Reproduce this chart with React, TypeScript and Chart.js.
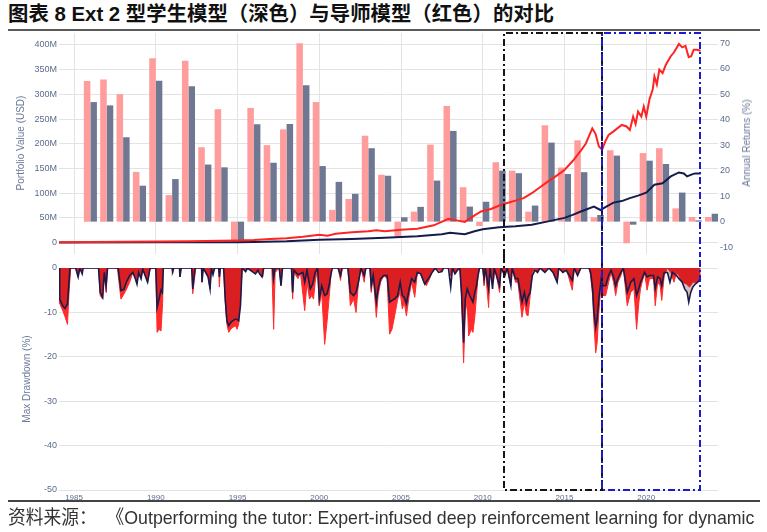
import React, { useEffect, useLayoutEffect, useRef } from 'react';
import { Chart, registerables } from 'chart.js';

Chart.register(...registerables);

// ---------- DATA ----------
const barYears = [1986, 1987, 1988, 1989, 1990, 1991, 1992, 1993, 1994, 1995, 1996, 1997, 1998, 1999, 2000, 2001, 2002, 2003, 2004, 2005, 2006, 2007, 2008, 2009, 2010, 2011, 2012, 2013, 2014, 2015, 2016, 2017, 2018, 2019, 2020, 2021, 2022, 2023, 2024];
const tutorReturns = [55.2, 55.8, 50.0, 19.5, 64.1, 10.4, 63.1, 29.2, 44.1, -8.2, 44.6, 30.0, 36.2, 70.0, 46.9, 4.6, 8.9, 33.7, 18.4, -5.9, 3.9, 30.2, 45.4, 13.5, -1.7, 23.3, 20.0, 3.9, 37.8, 21.2, 31.9, 1.7, 28.0, -8.5, 26.9, 28.8, 5.2, 1.8, 1.8];
const studentReturns = [46.9, 45.6, 33.1, 14.1, 55.3, 16.7, 53.1, 22.4, 21.3, -8.2, 38.2, 23.1, 38.3, 53.5, 21.8, 15.6, 10.9, 28.8, 18.0, 1.7, 5.8, 16.1, 35.6, 5.9, 7.8, 20.0, 19.0, 6.3, 31.0, 18.7, 19.4, 2.6, 25.9, -1.2, 23.9, 22.6, 11.4, 0.5, 3.1];

// Portfolio value (millions USD)
const tutorValue: [number, number][] = [
  [1984.08, 1], [1986, 1.5], [1988, 2], [1990, 2.5], [1992, 3], [1994, 4], [1995, 4.5], [1996, 5.5], [1997, 7.5], [1998, 9], [1999, 12],
  [2000, 16], [2000.5, 14], [2001, 18], [2002, 21], [2003, 23], [2003.5, 25], [2004, 23], [2005, 26], [2006, 28], [2007, 35], [2007.9, 48],
  [2008.4, 45], [2008.9, 42], [2009.5, 55], [2009.9, 63], [2010.5, 68], [2011.1, 76], [2011.5, 80], [2012, 85], [2012.5, 90], [2013, 100],
  [2013.5, 112], [2014, 124], [2014.5, 135], [2015, 147], [2015.5, 165], [2016, 186], [2016.3, 200], [2016.7, 231], [2016.9, 220],
  [2017.1, 195], [2017.3, 188], [2017.5, 205], [2017.7, 218], [2018, 225], [2018.5, 238], [2018.8, 235], [2019, 228], [2019.2, 255],
  [2019.35, 240], [2019.5, 265], [2019.7, 255], [2019.85, 275], [2020, 255], [2020.2, 290], [2020.4, 310], [2020.5, 336], [2020.65, 320],
  [2020.8, 350], [2021, 343], [2021.2, 360], [2021.5, 377], [2021.7, 385], [2022, 402], [2022.2, 395], [2022.4, 398], [2022.6, 375],
  [2022.75, 377], [2022.9, 390], [2023.1, 390], [2023.33, 388]
];
const studentValue: [number, number][] = [
  [1984.08, 0.5], [1990, 0.8], [1995, 1], [1996, 1.5], [1998, 3], [2000, 6], [2002, 7.5], [2004, 10], [2006, 13], [2007.5, 17], [2008, 20],
  [2008.9, 17], [2009.5, 23], [2010, 27], [2011, 31], [2012, 33], [2013, 36], [2014, 43], [2015, 50], [2015.5, 56], [2016, 63], [2016.8, 73],
  [2017.2, 66], [2017.5, 72], [2018, 81], [2018.5, 84], [2019, 90], [2019.5, 95], [2020, 101], [2020.5, 117], [2021, 120], [2021.5, 134],
  [2022, 142], [2022.3, 140], [2022.5, 134], [2022.8, 138], [2023, 140], [2023.33, 140]
];

// Max drawdown (%)
const tutorDrawdown: [number, number][] = [
  [1984.08, 0], [1984.12, -8], [1984.3, -9.5], [1984.45, -11], [1984.6, -12.7], [1984.7, -5], [1984.8, 0], [1985.1, 0], [1985.25, -2], [1985.35, 0],
  [1985.5, -1.3], [1985.55, 0], [1986.5, 0], [1986.6, -6.2], [1986.75, -7], [1986.85, -1.5], [1986.96, -5.5], [1987.05, 0], [1987.65, 0],
  [1987.75, -3.2], [1987.87, -7], [1988.0, -6.2], [1988.18, -5], [1988.4, -3.2], [1988.6, -1], [1988.75, -2.4], [1988.85, -3.6], [1988.95, -1],
  [1989.1, -2.4], [1989.2, -0.2], [1989.5, -3.2], [1989.65, -0.2], [1990.0, 0], [1990.08, -14.5], [1990.2, -13.8], [1990.32, -14.2],
  [1990.42, -7.7], [1990.46, 0], [1991.0, 0], [1991.03, -1.3], [1991.1, 0], [1991.45, 0], [1991.48, -2], [1991.55, 0], [1992.2, 0],
  [1992.26, -5.8], [1992.35, -3], [1992.45, 0], [1992.8, 0], [1992.83, -3.2], [1992.9, 0], [1993.2, -2], [1993.32, -4.7], [1993.4, 0],
  [1993.5, -1], [1993.6, 0], [1993.85, 0], [1993.89, -4.3], [1993.95, 0], [1994.15, 0], [1994.25, -7.7], [1994.35, -12.7], [1994.46, -14.5],
  [1994.58, -13.8], [1994.7, -13.4], [1994.87, -13], [1994.97, -13.8], [1995.07, -12.7], [1995.2, -6.2], [1995.28, 0], [1995.5, -0.8],
  [1995.6, 0], [1996.2, -1], [1996.3, -0.3], [1996.55, -2], [1996.6, 0], [1997.1, 0], [1997.21, -13.8], [1997.3, -1], [1997.55, 0],
  [1997.66, -4], [1997.75, 0], [1998.3, 0], [1998.37, -7], [1998.45, -1], [1998.7, -2.4], [1998.85, -1], [1999.11, -9.6], [1999.25, -3.2],
  [1999.4, -7], [1999.55, -6.2], [1999.65, -7], [1999.75, -3.2], [1999.9, 0], [2000.0, -8.5], [2000.15, -5.5], [2000.33, -17.2],
  [2000.48, -11.9], [2000.58, -7.7], [2000.68, -3.2], [2000.75, 0], [2001.15, 0], [2001.3, -2.8], [2001.4, 0], [2001.75, 0], [2001.9, -8.5],
  [2002.1, -7], [2002.25, -10], [2002.4, -3.2], [2002.55, 0], [2002.75, -3.2], [2002.85, 0], [2003.1, 0], [2003.18, -5.5], [2003.3, -1.7],
  [2003.49, -11.1], [2003.6, -6.2], [2003.75, -3.2], [2003.95, -1.7], [2004.15, -2.4], [2004.3, -14.9], [2004.45, -13.8], [2004.61, -10.8],
  [2004.8, -7], [2004.95, -5.5], [2005.08, -9.2], [2005.2, -7.7], [2005.33, -10.8], [2005.5, -6.2], [2005.65, -3.2], [2005.84, -6.6],
  [2006.0, -1], [2006.2, -1.3], [2006.4, -3.2], [2006.55, -4], [2006.75, -2.4], [2006.9, -1], [2007.1, 0], [2007.5, -0.8], [2007.6, 0],
  [2008.0, 0], [2008.04, -1.7], [2008.15, 0], [2008.3, -1], [2008.6, 0], [2008.7, -6.2], [2008.83, -21.4], [2008.93, -10], [2009.05, -7.7],
  [2009.14, -15.3], [2009.3, -13.8], [2009.4, -14.5], [2009.52, -10.8], [2009.62, -6.2], [2009.71, -1.7], [2009.8, 0], [2010.0, 0],
  [2010.08, -4], [2010.15, 0], [2010.36, -8.9], [2010.45, 0], [2010.65, -3.2], [2010.75, 0], [2011.03, -5.5], [2011.12, 0], [2011.35, -1.7],
  [2011.5, 0], [2011.72, -4], [2011.8, 0], [2012.0, -3.2], [2012.15, -3.2], [2012.4, -11.1], [2012.55, -7.7], [2012.67, -10.5],
  [2012.77, -10.8], [2012.9, -6.2], [2013.03, -1], [2013.2, 0], [2013.35, -1], [2013.5, 0], [2013.8, -0.8], [2014.05, 0], [2014.3, -1],
  [2014.55, -3.2], [2014.65, 0], [2014.9, -1], [2015.1, 0], [2015.48, -5], [2015.6, 0], [2015.8, -1.7], [2016.0, 0], [2016.5, 0],
  [2016.6, -1.7], [2016.72, -6.2], [2016.8, -12.3], [2016.91, -19.1], [2017.0, -16.8], [2017.1, -10], [2017.25, -3.2], [2017.35, -6.2],
  [2017.52, -6.2], [2017.7, -3.2], [2017.85, -1], [2018.0, -3.2], [2018.13, -6.2], [2018.27, -3.2], [2018.45, -1.7], [2018.6, 0],
  [2018.84, -8.5], [2019.05, -5.5], [2019.25, -4.7], [2019.41, -13.8], [2019.55, -7.7], [2019.65, -4.7], [2019.75, -3.2], [2019.9, -1],
  [2020.05, -5], [2020.2, -2.4], [2020.45, -2.4], [2020.55, -8.5], [2020.7, -3.2], [2020.85, -4], [2020.95, -7.3], [2021.1, -1.7],
  [2021.3, 0], [2021.5, -1], [2021.7, -3.2], [2021.85, -1], [2022.0, -1.7], [2022.2, -3.2], [2022.45, -3.6], [2022.65, -4.3],
  [2022.85, -3.2], [2023.05, -3.2], [2023.33, -2.4]
];
const studentDrawdown: [number, number][] = [
  [1984.08, 0], [1984.12, -7], [1984.3, -8.5], [1984.45, -9.1], [1984.6, -8.1], [1984.75, 0], [1985.1, 0], [1985.25, -2], [1985.35, 0],
  [1985.5, -1.3], [1985.55, 0], [1986.5, 0], [1986.6, -5.5], [1986.75, -6.6], [1986.85, -1], [1986.96, -4], [1987.05, 0], [1987.7, 0],
  [1987.8, -3], [1987.87, -5.1], [1988.05, -4.8], [1988.2, -3.2], [1988.4, -1.7], [1988.6, -1], [1988.75, -2.4], [1988.85, -3.6],
  [1988.95, -1], [1989.1, -2.4], [1989.2, -0.2], [1989.5, -3.2], [1989.65, 0], [1990.0, 0], [1990.08, -8.9], [1990.2, -7], [1990.32, -5],
  [1990.4, -5.5], [1990.46, 0], [1991.0, 0], [1991.03, -0.8], [1991.1, 0], [1991.45, 0], [1991.48, -2], [1991.55, 0], [1992.2, 0],
  [1992.26, -4.7], [1992.4, 0], [1992.8, 0], [1992.83, -3.2], [1992.9, 0], [1993.2, -2], [1993.32, -4.7], [1993.4, 0], [1993.5, -1.5],
  [1993.6, 0], [1993.85, 0], [1993.89, -2], [1993.95, 0], [1994.15, 0], [1994.25, -7], [1994.35, -11.9], [1994.46, -13], [1994.58, -12.3],
  [1994.7, -11.9], [1994.87, -11.5], [1994.97, -11.6], [1995.07, -11.9], [1995.18, -8.5], [1995.28, 0], [1995.5, -0.8], [1995.6, 0],
  [1996.1, -1.3], [1996.25, -0.5], [1996.35, -1.3], [1996.5, -2], [1996.6, 0], [1997.15, 0], [1997.2, -2.4], [1997.3, 0], [1997.55, 0],
  [1997.66, -4], [1997.75, 0], [1998.3, 0], [1998.37, -5.5], [1998.45, -0.5], [1998.7, -1.5], [1999.0, -1], [1999.11, -3.2],
  [1999.25, -0.5], [1999.45, -4.7], [1999.6, -3.6], [1999.75, -1], [1999.9, 0], [2000.0, -7], [2000.15, -4], [2000.33, -6.2],
  [2000.48, -5.8], [2000.6, -4], [2000.7, -1.7], [2000.8, 0], [2001.15, 0], [2001.3, -1.7], [2001.4, 0], [2001.75, 0], [2001.9, -5.5],
  [2002.1, -6.2], [2002.25, -5.5], [2002.4, -3.2], [2002.55, 0], [2002.75, -1.7], [2002.85, 0], [2003.1, 0], [2003.18, -4], [2003.3, -1.7],
  [2003.49, -7.7], [2003.6, -4.7], [2003.75, -2.4], [2003.95, -1.7], [2004.15, -1.7], [2004.3, -7.7], [2004.45, -7.3], [2004.61, -7],
  [2004.8, -6.2], [2004.95, -3.2], [2005.08, -6.2], [2005.2, -6.6], [2005.33, -8.1], [2005.5, -4.7], [2005.65, -2.4], [2005.84, -3.2],
  [2006.0, -1], [2006.2, -1.3], [2006.45, -3.6], [2006.6, -2.8], [2006.75, -2], [2006.9, -1], [2007.1, 0], [2007.3, -1], [2007.5, -0.8],
  [2007.6, 0], [2007.9, 0], [2008.04, -4.3], [2008.15, 0], [2008.3, -1.3], [2008.45, -0.5], [2008.6, 0], [2008.7, -5.5], [2008.83, -16.8],
  [2008.93, -7], [2009.05, -4.7], [2009.2, -6.2], [2009.4, -7.7], [2009.52, -5.5], [2009.62, -4], [2009.71, -1.7], [2009.8, 0], [2010.0, 0],
  [2010.08, -2.4], [2010.15, 0], [2010.36, -4.7], [2010.45, 0], [2010.6, -4.7], [2010.7, 0], [2011.03, -4], [2011.12, 0], [2011.35, -1.7],
  [2011.5, 0], [2011.72, -4], [2011.8, 0], [2012.0, -2.4], [2012.15, -2.4], [2012.4, -7.7], [2012.55, -5.5], [2012.67, -8], [2012.77, -6.5],
  [2012.9, -5.5], [2013.03, -1.7], [2013.2, -0.5], [2013.35, -1], [2013.5, 0], [2013.8, -1], [2014.05, 0], [2014.3, -1], [2014.55, -3.2],
  [2014.65, 0], [2014.9, -1], [2015.1, -0.5], [2015.48, -2.8], [2015.6, 0], [2015.8, -1.7], [2016.0, 0], [2016.5, 0], [2016.6, -1],
  [2016.72, -4.7], [2016.8, -10], [2016.91, -13.4], [2017.0, -11.5], [2017.1, -7], [2017.25, -2.4], [2017.35, -4], [2017.52, -4],
  [2017.7, -1.7], [2017.85, -0.5], [2018.0, -2], [2018.13, -4], [2018.27, -2.4], [2018.45, -1], [2018.6, 0], [2018.84, -5.5],
  [2019.05, -3.2], [2019.25, -2.4], [2019.41, -6.2], [2019.55, -4.7], [2019.65, -3.2], [2019.75, -2.4], [2019.9, -1], [2020.05, -2],
  [2020.2, -1.7], [2020.45, -1.7], [2020.55, -4.7], [2020.7, -2], [2020.85, -2.4], [2020.95, -4], [2021.1, -1], [2021.3, -1],
  [2021.45, -3.2], [2021.6, -1], [2021.85, -1.7], [2022.0, -2.4], [2022.2, -3.2], [2022.35, -4.7], [2022.5, -5.5], [2022.6, -7.7],
  [2022.72, -5.5], [2022.85, -4.3], [2023.0, -3.6], [2023.15, -3.2], [2023.33, -2.4]
];

const xTickYears = [1985, 1990, 1995, 2000, 2005, 2010, 2015, 2020];
const valueTicks = [0, 50, 100, 150, 200, 250, 300, 350, 400];
const returnTicks = [-10, 0, 10, 20, 30, 40, 50, 60, 70];
const drawdownTicks = [-50, -40, -30, -20, -10, 0];
const highlightStarts = [2011.3, 2017.3];
const highlightEnds = [2017.3, 2023.3];

// ---------- STYLE ----------
const X_MIN = 1984.08;
const X_MAX = 2024.39;
const TICK_COLOR = '#5d6c8c';
const GRID_COLOR = '#e3e3e3';
const BOX_COLORS = ['#151515', '#1a1ad0'];
const TOP_H = 225;
const BOT_H = 248;
const SOURCE_WIDTH = 746;

const tickFont = { family: '"Liberation Sans", Arial, sans-serif', size: 9 };

function boxPlugin(part: 'top' | 'bottom') {
  return {
    id: 'hlbox_' + part,
    afterDraw(chart: any) {
      const { ctx, chartArea, scales } = chart;
      const xs = scales.x;
      ctx.save();
      ctx.lineWidth = 2;
      ctx.setLineDash([7, 3, 2, 3]);
      highlightStarts.forEach((s, i) => {
        const x0 = Math.round(xs.getPixelForValue(s));
        const x1 = Math.round(xs.getPixelForValue(highlightEnds[i]));
        ctx.strokeStyle = BOX_COLORS[i];
        ctx.beginPath();
        if (part === 'top') {
          const y0 = chartArea.top;
          const y1 = chart.height;
          ctx.moveTo(x0, y1); ctx.lineTo(x0, y0); ctx.lineTo(x1, y0); ctx.lineTo(x1, y1);
        } else {
          const y0 = 0;
          const y1 = chartArea.bottom;
          ctx.moveTo(x0, y0); ctx.lineTo(x0, y1); ctx.lineTo(x1, y1); ctx.lineTo(x1, y0);
        }
        ctx.stroke();
      });
      ctx.restore();
    }
  };
}

const VLabel = ({ cx, cy, text }: { cx: number; cy: number; text: string }) => (
  <div style={{
    position: 'absolute', left: cx, top: cy, transform: 'translate(-50%, -50%) rotate(-90deg)',
    whiteSpace: 'nowrap', fontFamily: '"Liberation Sans", Arial, sans-serif', fontSize: 10, color: '#6b7a99', lineHeight: '12px'
  }}>{text}</div>
);

export default function App() {
  const topRef = useRef<HTMLCanvasElement>(null);
  const botRef = useRef<HTMLCanvasElement>(null);
  const srcRef = useRef<HTMLDivElement>(null);

  useLayoutEffect(() => {
    const el = srcRef.current;
    if (el) {
      const w = el.scrollWidth;
      if (w > 0) el.style.transform = `scaleX(${SOURCE_WIDTH / w})`;
    }
  }, []);

  useEffect(() => {
    const top = new Chart(topRef.current as HTMLCanvasElement, {
      type: 'bar',
      data: {
        datasets: [
          { type: 'line', label: 'Tutor value', data: tutorValue.map(([x, y]) => ({ x, y })), yAxisID: 'yL', borderColor: '#ff2424', borderWidth: 2, pointRadius: 0, tension: 0, order: 0 } as any,
          { type: 'line', label: 'Student value', data: studentValue.map(([x, y]) => ({ x, y })), yAxisID: 'yL', borderColor: '#141c4c', borderWidth: 2, pointRadius: 0, tension: 0, order: 0 } as any,
          { type: 'bar', label: 'Tutor return', data: barYears.map((x, i) => ({ x, y: tutorReturns[i] })), yAxisID: 'yR', backgroundColor: '#ff9c9c', categoryPercentage: 0.8, barPercentage: 1, order: 1 } as any,
          { type: 'bar', label: 'Student return', data: barYears.map((x, i) => ({ x, y: studentReturns[i] })), yAxisID: 'yR', backgroundColor: '#6f7893', categoryPercentage: 0.8, barPercentage: 1, order: 1 } as any,
        ]
      },
      options: {
        responsive: false, animation: false, devicePixelRatio: 1,
        layout: { padding: { top: 2, left: 0, right: 0, bottom: 0 } },
        plugins: { legend: { display: false }, tooltip: { enabled: false } },
        scales: {
          x: {
            type: 'linear', min: X_MIN, max: X_MAX, offset: false,
            grid: { color: GRID_COLOR, drawTicks: false, offset: false }, border: { display: false },
            ticks: { display: false },
            afterBuildTicks: (s: any) => { s.ticks = xTickYears.map(v => ({ value: v })); },
            afterFit: (s: any) => { s.height = 2; s.paddingLeft = 0; s.paddingRight = 0; }
          },
          yL: {
            position: 'left', min: -23, max: 424,
            grid: { color: GRID_COLOR, drawTicks: false }, border: { display: false },
            ticks: { color: TICK_COLOR, font: tickFont, padding: 2, callback: (v: any) => (v === 0 ? '0' : v + 'M') },
            afterBuildTicks: (s: any) => { s.ticks = valueTicks.map(v => ({ value: v })); },
            afterFit: (s: any) => { s.width = 59; s.paddingTop = 0; s.paddingBottom = 0; }
          },
          yR: {
            position: 'right', min: -12.7, max: 74,
            grid: { display: false, drawTicks: false }, border: { display: false },
            ticks: { color: TICK_COLOR, font: tickFont, padding: 2, callback: (v: any) => String(v) },
            afterBuildTicks: (s: any) => { s.ticks = returnTicks.map(v => ({ value: v })); },
            afterFit: (s: any) => { s.width = 49; s.paddingTop = 0; s.paddingBottom = 0; }
          }
        }
      } as any,
      plugins: [boxPlugin('top')]
    });

    const bot = new Chart(botRef.current as HTMLCanvasElement, {
      type: 'line',
      data: {
        datasets: [
          { label: 'Student drawdown', data: studentDrawdown.map(([x, y]) => ({ x, y })), borderColor: '#1b1b4a', borderWidth: 1.6, backgroundColor: 'rgba(110,0,10,0.26)', fill: 'origin', pointRadius: 0, tension: 0, order: 0 } as any,
          { label: 'Tutor drawdown', data: tutorDrawdown.map(([x, y]) => ({ x, y })), borderColor: '#ff2b2b', borderWidth: 1, backgroundColor: '#ff2b2b', fill: 'origin', pointRadius: 0, tension: 0, order: 1 } as any,
        ]
      },
      options: {
        responsive: false, animation: false, devicePixelRatio: 1,
        layout: { padding: { top: 12, left: 0, right: 49, bottom: 0 } },
        plugins: { legend: { display: false }, tooltip: { enabled: false } },
        scales: {
          x: {
            type: 'linear', min: X_MIN, max: X_MAX,
            grid: { display: false, drawTicks: false }, border: { display: false },
            ticks: { color: TICK_COLOR, font: { family: '"Liberation Sans", Arial, sans-serif', size: 8 }, padding: 3, maxRotation: 0, callback: (v: any) => String(v) },
            afterBuildTicks: (s: any) => { s.ticks = xTickYears.map(v => ({ value: v })); },
            afterFit: (s: any) => { s.height = 14; s.paddingLeft = 0; s.paddingRight = 0; }
          },
          y: {
            min: -50, max: 0,
            grid: { color: GRID_COLOR, drawTicks: false }, border: { display: false },
            ticks: { color: TICK_COLOR, font: tickFont, padding: 2, callback: (v: any) => String(v) },
            afterBuildTicks: (s: any) => { s.ticks = drawdownTicks.map(v => ({ value: v })); },
            afterFit: (s: any) => { s.width = 59; s.paddingTop = 0; s.paddingBottom = 0; }
          }
        }
      } as any,
      plugins: [boxPlugin('bottom')]
    });

    return () => { top.destroy(); bot.destroy(); };
  }, []);

  return (
    <div style={{ position: 'absolute', left: 0, top: 0, width: 767, height: 532, background: '#fff', overflow: 'hidden' }}>
      <div style={{
        position: 'absolute', left: 8, top: 3, whiteSpace: 'nowrap',
        fontFamily: '"Liberation Sans", "Noto Sans CJK SC", sans-serif', fontWeight: 'bold', fontSize: 20.4, lineHeight: '22px', color: '#111'
      }}>图表 8 Ext 2 型学生模型（深色）与导师模型（红色）的对比</div>
      <div style={{ position: 'absolute', left: 8, top: 29, width: 752, height: 2, background: '#5a5a5a' }} />
      <canvas ref={topRef} width={767} height={TOP_H} style={{ position: 'absolute', left: 0, top: 31, width: 767, height: TOP_H }} />
      <canvas ref={botRef} width={767} height={BOT_H} style={{ position: 'absolute', left: 0, top: 256, width: 767, height: BOT_H }} />
      <VLabel cx={21} cy={143} text="Portfolio Value (USD)" />
      <VLabel cx={747} cy={143} text="Annual Returns (%)" />
      <VLabel cx={27} cy={379} text="Max Drawdown (%)" />
      <div style={{ position: 'absolute', left: 8, top: 500, width: 752, height: 2, background: '#444' }} />
      <div ref={srcRef} style={{
        position: 'absolute', left: 8, top: 506, whiteSpace: 'pre', transformOrigin: '0 50%',
        fontFamily: '"Liberation Sans", "Noto Sans CJK SC", sans-serif', fontSize: 19, lineHeight: '24px', color: '#333'
      }}>{'资料来源：  《Outperforming the tutor: Expert-infused deep reinforcement learning for dynamic'}</div>
    </div>
  );
}
